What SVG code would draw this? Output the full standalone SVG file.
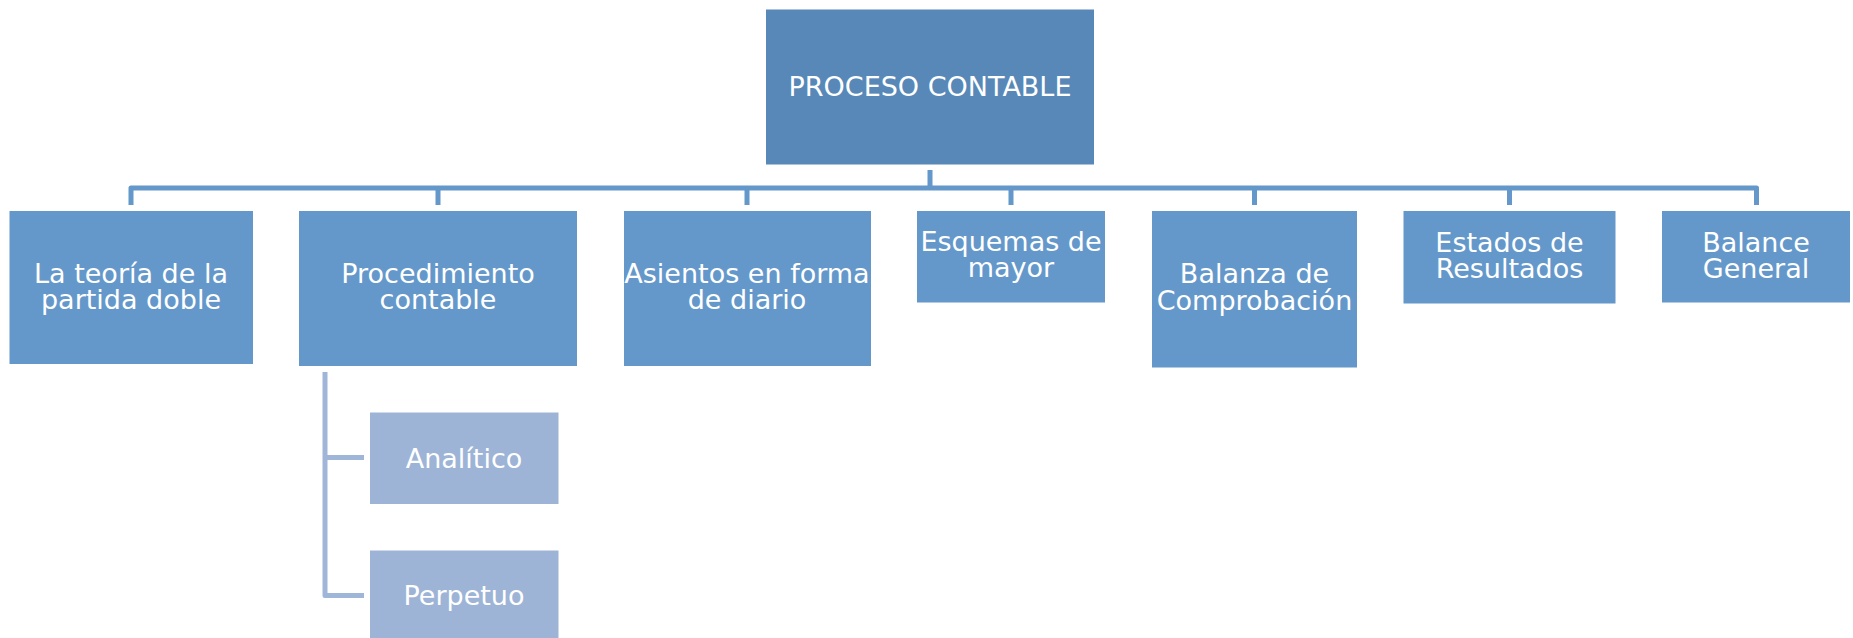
<svg xmlns="http://www.w3.org/2000/svg" width="1853" height="638" viewBox="0 0 1853 638">
<style>
.root{fill:#5788b8}
.box{fill:#6598ca}
.sub{fill:#9db4d6}
text{font-family:"DejaVu Sans","Verdana",sans-serif;font-size:27px;fill:#ffffff;text-anchor:middle}
.main{stroke:#6497ca;stroke-width:5;fill:none;stroke-linejoin:round}
.subc{stroke:#9fb6d8;stroke-width:5;fill:none;stroke-linejoin:round}
</style>
<rect width="1853" height="638" fill="#ffffff"/>
<g id="connectors">
<path class="main" d="M930,170 V188 M131,205 V188 H1756.5 V205 M438,188 V205 M747,188 V205 M1011,188 V205 M1254.5,188 V205 M1509.5,188 V205"/>
<path class="subc" d="M325,372 V595.5 H364 M325,457.5 H364"/>
</g>
<g id="root"><rect class="root" x="766" y="9.5" width="328" height="155"/><text x="930" y="96">PROCESO CONTABLE</text></g>
<g id="teoria"><rect class="box" x="9.5" y="211" width="243.5" height="153"/><text x="131" y="282.7">La teoría de la<tspan x="131" dy="26.6">partida doble</tspan></text></g>
<g id="procedimiento"><rect class="box" x="299" y="211" width="278" height="155"/><text x="438" y="282.7">Procedimiento<tspan x="438" dy="26.6">contable</tspan></text></g>
<g id="asientos"><rect class="box" x="624" y="211" width="247" height="155"/><text x="747" y="282.7">Asientos en forma<tspan x="747" dy="26.6">de diario</tspan></text></g>
<g id="esquemas"><rect class="box" x="917" y="211" width="188" height="91.5"/><text x="1011" y="251">Esquemas de<tspan x="1011" dy="26">mayor</tspan></text></g>
<g id="balanza"><rect class="box" x="1152" y="211" width="205" height="156.5"/><text x="1254.5" y="283.3">Balanza de<tspan x="1254.5" dy="26.7">Comprobación</tspan></text></g>
<g id="estados"><rect class="box" x="1403.5" y="211" width="212" height="92.5"/><text x="1509.5" y="251.7">Estados de<tspan x="1509.5" dy="26.6">Resultados</tspan></text></g>
<g id="balance"><rect class="box" x="1662" y="211" width="188" height="91.5"/><text x="1756" y="251.7">Balance<tspan x="1756" dy="26.6">General</tspan></text></g>
<g id="analitico"><rect class="sub" x="370" y="412.5" width="188.5" height="91.5"/><text x="464" y="467.7">Analítico</text></g>
<g id="perpetuo"><rect class="sub" x="370" y="550.5" width="188.5" height="91.5"/><text x="464" y="605">Perpetuo</text></g>
</svg>
